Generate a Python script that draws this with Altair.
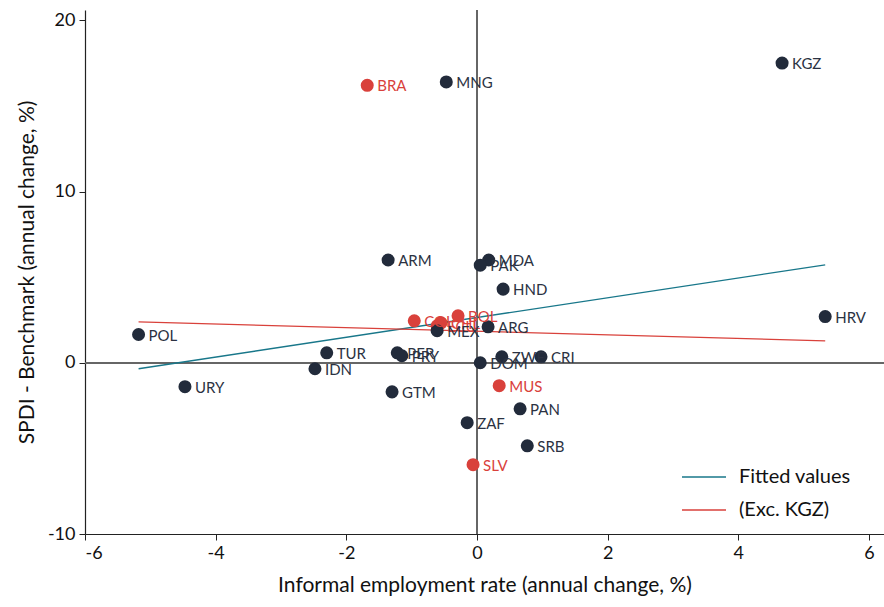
import altair as alt
import pandas as pd

FONT = "Lato"

countries = ["KGZ", "MNG", "BRA", "ARM", "MDA", "PAK", "HND", "HRV", "POL", "COL",
             "ECU", "CHL", "BOL", "MEX", "ARG", "TUR", "IDN", "URY", "PER", "PRY",
             "DOM", "ZWE", "CRI", "GTM", "MUS", "PAN", "ZAF", "SRB", "SLV"]
x_vals = [4.67, -0.47, -1.68, -1.36, 0.18, 0.05, 0.40, 5.33, -5.18, -0.96,
          -0.61, -0.55, -0.29, -0.61, 0.17, -2.30, -2.48, -4.47, -1.22, -1.15,
          0.05, 0.38, 0.98, -1.30, 0.34, 0.66, -0.15, 0.77, -0.06]
y_vals = [17.5, 16.4, 16.2, 6.0, 6.0, 5.7, 4.3, 2.7, 1.65, 2.45,
          2.16, 2.33, 2.74, 1.87, 2.1, 0.58, -0.35, -1.4, 0.58, 0.41,
          0.0, 0.35, 0.35, -1.7, -1.34, -2.69, -3.5, -4.85, -5.95]
highlight = ["BRA", "COL", "ECU", "CHL", "BOL", "MUS", "SLV"]

fit_names = ["Fitted values", "Fitted values", "(Exc. KGZ)", "(Exc. KGZ)"]
fit_x = [-5.18, 5.33, -5.18, 5.33]
fit_y = [-0.35, 5.72, 2.39, 1.28]

x_ticks = [-6, -4, -2, 0, 2, 4, 6]
y_ticks = [-10, 0, 10, 20]

DARK = "#222b3b"
RED = "#d9413b"
TEAL = "#18778a"

pts = pd.DataFrame({"country": countries, "x": x_vals, "y": y_vals})
pts["group"] = ["hl" if c in highlight else "base" for c in countries]
fits = pd.DataFrame({"series": fit_names, "x": fit_x, "y": fit_y})

xscale = alt.Scale(domain=[-6, 6.23], nice=False, zero=False)
yscale = alt.Scale(domain=[-10, 20.6], nice=False, zero=False)

xaxis = alt.Axis(values=x_ticks, labelExpr="'' + datum.value",
                 title="Informal employment rate (annual change, %)")
yaxis = alt.Axis(values=y_ticks, labelExpr="'' + datum.value",
                 title="SPDI - Benchmark (annual change, %)")

zero_y = alt.Chart(pts).mark_rule(color="#666666", strokeWidth=1.6).encode(y=alt.datum(0, scale=yscale))
zero_x = alt.Chart(pts).mark_rule(color="#666666", strokeWidth=1.6).encode(x=alt.datum(0, scale=xscale))

lines = alt.Chart(fits).mark_line(strokeWidth=1.3).encode(
    x=alt.X("x:Q", scale=xscale, axis=xaxis),
    y=alt.Y("y:Q", scale=yscale, axis=yaxis),
    color=alt.Color("series:N",
                    scale=alt.Scale(domain=["Fitted values", "(Exc. KGZ)"], range=[TEAL, RED]),
                    legend=alt.Legend(title=None, orient="none", legendX=590, legendY=438,
                                      symbolType="stroke", symbolSize=1936, symbolStrokeWidth=1.3,
                                      labelFont=FONT, labelFontSize=20, labelColor="#111111",
                                      fillColor="white", padding=6, rowPadding=-12,
                                      labelOffset=12)),
    detail="series:N",
)

grp_scale = alt.Scale(domain=["base", "hl"], range=[DARK, RED])

points = alt.Chart(pts).mark_circle(size=170, opacity=1).encode(
    x=alt.X("x:Q", scale=xscale),
    y=alt.Y("y:Q", scale=yscale),
    fill=alt.Fill("group:N", scale=grp_scale, legend=None),
)

labels = alt.Chart(pts).mark_text(align="left", baseline="middle", dx=10, dy=1,
                                  font=FONT, fontSize=15).encode(
    x=alt.X("x:Q", scale=xscale),
    y=alt.Y("y:Q", scale=yscale),
    text="country:N",
    color=alt.Color("group:N", scale=alt.Scale(domain=["base", "hl"], range=["#2b3242", RED]), legend=None),
)

chart = alt.layer(zero_y, zero_x, lines, points, labels).resolve_scale(color="independent").properties(
    width=799, height=524,
    autosize=alt.AutoSizeParams(type="none"),
    padding={"left": 85, "top": 10, "right": 0, "bottom": 73},
).configure_view(stroke=None).configure_axis(
    labelFont=FONT, titleFont=FONT, labelFontSize=18, titleFontSize=21,
    labelColor="#111111", titleColor="#111111", titleFontWeight="normal",
    gridColor="#e6e6e6", gridWidth=1, domainColor="#222222", domainWidth=1.2,
    tickColor="#222222", tickSize=6,
).configure_axisX(titlePadding=12, labelPadding=4).configure_axisY(titlePadding=10, labelPadding=4)

chart.save("out.html", embed_options={"renderer": "svg", "actions": False})
